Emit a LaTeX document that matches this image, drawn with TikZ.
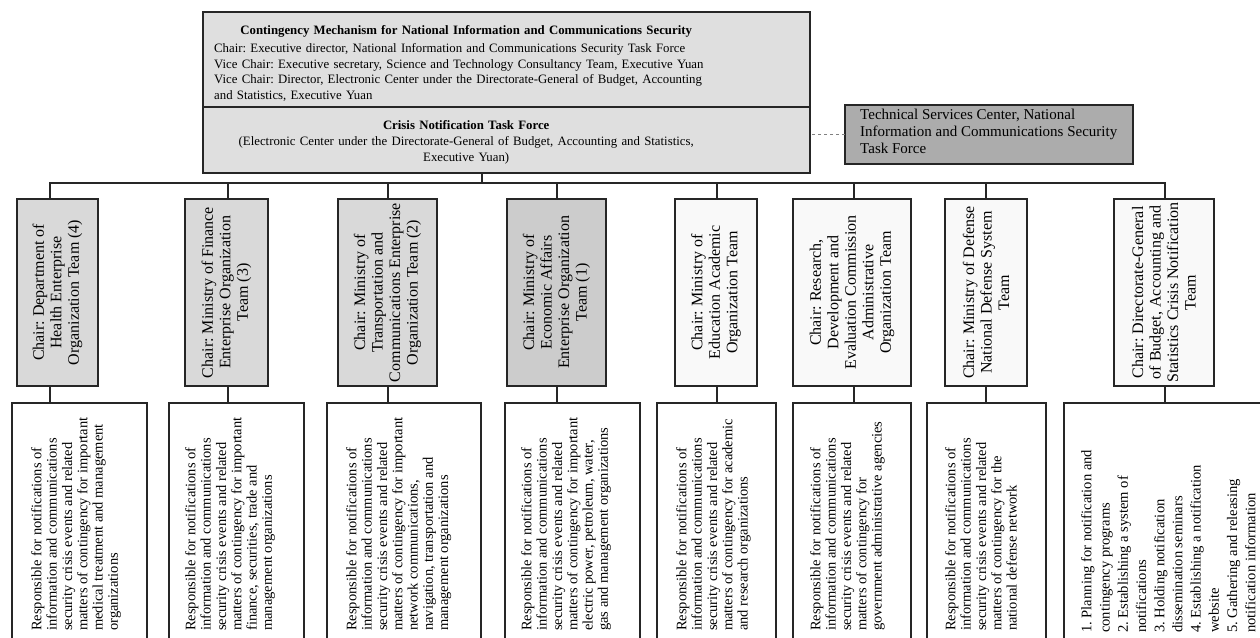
\documentclass[tikz,border=0pt]{standalone}
\usepackage{fontspec}
\setmainfont{Liberation Serif}
\frenchspacing
\begin{document}
\begin{tikzpicture}[x=1pt,y=-1pt,
  frame/.style={draw=black!85, line width=1.2pt, inner sep=0pt, outer sep=0pt, anchor=north west},
  conn/.style={draw=black!85, line width=1.2pt},
  teamtxt/.style={rotate=90, align=center, inner sep=0pt, font=\fontsize{16}{17.5}\selectfont},
  dutytxt/.style={rotate=90, align=left, inner sep=0pt, anchor=north west, font=\fontsize{14.5}{15.3}\selectfont},
]
\useasboundingbox (0,0) rectangle (1260,637);
\clip (0,0) rectangle (1260,637);
% ---------- top box ----------
\node[frame, fill=gray!25, minimum width=607, minimum height=95] (mech) at (203,12) {};
\node[frame, fill=gray!25, minimum width=607, minimum height=66] (cntf) at (203,107) {};
\node[anchor=north west, inner sep=0pt, text width=504, align=left,
      font=\fontsize{12.8}{15.9}\selectfont] (mechtx) at (214,25)
 {\makebox[\linewidth][c]{\bfseries Contingency Mechanism for National Information and Communications Security}\\[2pt]
  Chair: Executive director, National Information and Communications Security Task Force\\
  Vice Chair: Executive secretary, Science and Technology Consultancy Team, Executive Yuan\\
  Vice Chair: Director, Electronic Center under the Directorate-General of Budget, Accounting\\
  and Statistics, Executive Yuan};
\node[anchor=north west, inner sep=0pt, text width=504, align=center,
      font=\fontsize{12.8}{15.6}\selectfont] (cntftx) at (214,120.5)
 {{\bfseries Crisis Notification Task Force}\\[0.6pt]
  (Electronic Center under the Directorate-General of Budget, Accounting and Statistics,\\
  Executive Yuan)};
% ---------- technical services ----------
\node[frame, fill=gray!65, minimum width=288, minimum height=59] (tech) at (845,105) {};
\node[anchor=north west, inner sep=0pt, align=left, font=\fontsize{15}{17}\selectfont] (techtx) at (860,109)
 {Technical Services Center, National\\Information and Communications Security\\Task Force};
\draw[gray, line width=0.8pt, dash pattern=on 3pt off 3pt] (tech.west) -- (tech.west -| cntf.east);
% ---------- team boxes ----------
\node[frame, fill=gray!30, minimum width=81, minimum height=187] (t1) at (17,199) {};
\node[frame, fill=gray!30, minimum width=83, minimum height=187] (t2) at (185,199) {};
\node[frame, fill=gray!30, minimum width=99, minimum height=187] (t3) at (338,199) {};
\node[frame, fill=gray!40, minimum width=99, minimum height=187] (t4) at (507,199) {};
\node[frame, fill=gray!5, minimum width=82, minimum height=187] (t5) at (675,199) {};
\node[frame, fill=gray!5, minimum width=118, minimum height=187] (t6) at (793,199) {};
\node[frame, fill=gray!5, minimum width=82, minimum height=187] (t7) at (945,199) {};
\node[frame, fill=gray!5, minimum width=100, minimum height=187] (t8) at (1114,199) {};
\node[teamtxt] (t1x) at (t1.center) {Chair: Department of\\Health Enterprise\\Organization Team (4)};
\node[teamtxt] (t2x) at (t2.center) {Chair: Ministry of Finance\\Enterprise Organization\\Team (3)};
\node[teamtxt] (t3x) at (t3.center) {Chair: Ministry of\\Transportation and\\Communications Enterprise\\Organization Team (2)};
\node[teamtxt] (t4x) at (t4.center) {Chair: Ministry of\\Economic Affairs\\Enterprise Organization\\Team (1)};
\node[teamtxt] (t5x) at (t5.center) {Chair: Ministry of\\Education Academic\\Organization Team};
\node[teamtxt] (t6x) at (t6.center) {Chair: Research,\\Development and\\Evaluation Commission\\Administrative\\Organization Team};
\node[teamtxt] (t7x) at (t7.center) {Chair: Ministry of Defense\\National Defense System\\Team};
\node[teamtxt] (t8x) at (t8.center) {Chair: Directorate-General\\of Budget, Accounting and\\Statistics Crisis Notification\\Team};
% ---------- duty boxes ----------
\node[frame, fill=white, minimum width=135, minimum height=260] (r1) at (12,403) {};
\node[frame, fill=white, minimum width=135, minimum height=260] (r2) at (169,403) {};
\node[frame, fill=white, minimum width=154, minimum height=260] (r3) at (327,403) {};
\node[frame, fill=white, minimum width=135, minimum height=260] (r4) at (505,403) {};
\node[frame, fill=white, minimum width=119, minimum height=260] (r5) at (657,403) {};
\node[frame, fill=white, minimum width=118, minimum height=260] (r6) at (793,403) {};
\node[frame, fill=white, minimum width=119, minimum height=260] (r7) at (927,403) {};
\node[frame, fill=white, minimum width=220, minimum height=260] (r8) at (1064,403) {};
\path (r1.north west) ++(19,228) node[dutytxt] (r1x) {Responsible for notifications of\\information and communications\\security crisis events and related\\matters of contingency for important\\medical treatment and management\\organizations};
\path (r2.north west) ++(16,228) node[dutytxt] (r2x) {Responsible for notifications of\\information and communications\\security crisis events and related\\matters of contingency for important\\finance, securities, trade and\\management organizations};
\path (r3.north west) ++(19,228) node[dutytxt] (r3x) {Responsible for notifications of\\information and communications\\security crisis events and related\\matters of contingency for important\\network communications,\\navigation, transportation and\\management organizations};
\path (r4.north west) ++(16,228) node[dutytxt] (r4x) {Responsible for notifications of\\information and communications\\security crisis events and related\\matters of contingency for important\\electric power, petroleum, water,\\gas and management organizations};
\path (r5.north west) ++(19,228) node[dutytxt] (r5x) {Responsible for notifications of\\information and communications\\security crisis events and related\\matters of contingency for academic\\and research organizations};
\path (r6.north west) ++(17,228) node[dutytxt] (r6x) {Responsible for notifications of\\information and communications\\security crisis events and related\\matters of contingency for\\government administrative agencies};
\path (r7.north west) ++(18,228) node[dutytxt] (r7x) {Responsible for notifications of\\information and communications\\security crisis events and related\\matters of contingency for the\\national defense network};
\path (r8.north west) ++(17,230) node[dutytxt, font=\fontsize{14.6}{18.2}\selectfont] (r8x) {1. Planning for notification and\\contingency programs\\2. Establishing a system of\\notifications\\3. Holding notification\\dissemination seminars\\4. Establishing a notification\\website\\5. Gathering and releasing\\notification information};
% ---------- connectors ----------
\coordinate (stem) at (482,183);
\coordinate (d1) at (50,183);
\coordinate (d2) at (228,183);
\coordinate (d3) at (388,183);
\coordinate (d4) at (557,183);
\coordinate (d5) at (717,183);
\coordinate (d6) at (854,183);
\coordinate (d7) at (986,183);
\coordinate (d8) at (1165,183);
\draw[conn] (cntf.south -| stem) -- (stem);
\draw[conn, line cap=rect] (d1) -- (d8);
\foreach \i in {1,...,8}{
  \draw[conn] (d\i) -- (d\i |- t\i.north);
  \draw[conn] (d\i |- t\i.south) -- (d\i |- r\i.north);
}
\end{tikzpicture}
\end{document}
